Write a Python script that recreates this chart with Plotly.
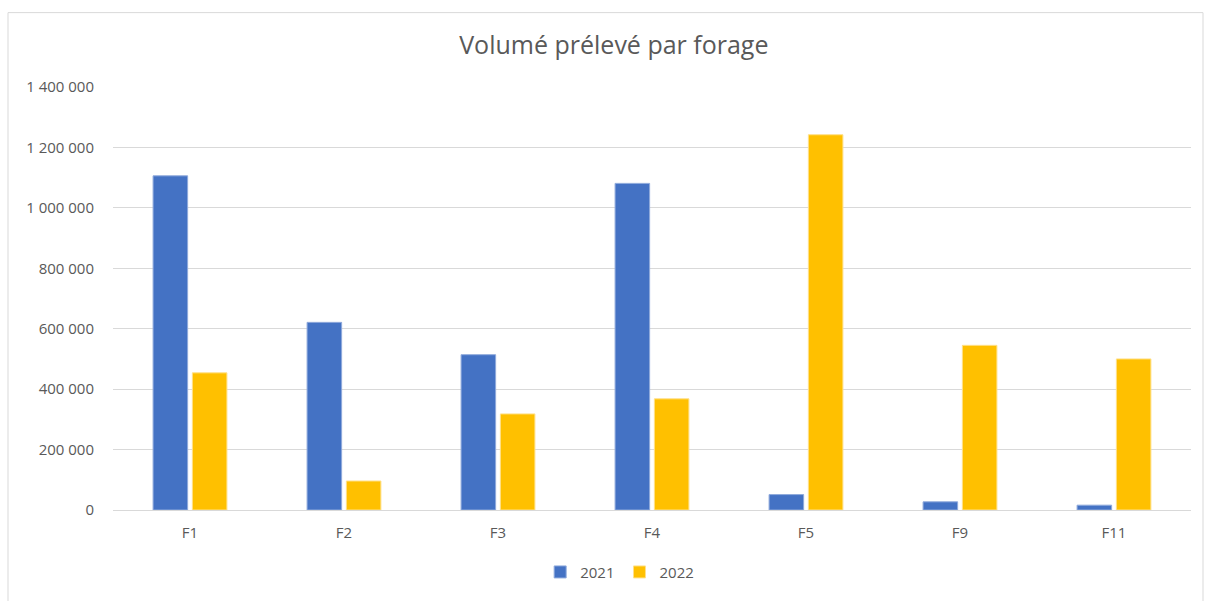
import plotly.graph_objects as go

categories = ["F1", "F2", "F3", "F4", "F5", "F9", "F11"]
vol_2021 = [1106000, 621000, 514000, 1081000, 51000, 27000, 16000]
vol_2022 = [454000, 96000, 318000, 368000, 1242000, 545000, 500000]
tick_vals = [0, 200000, 400000, 600000, 800000, 1000000, 1200000, 1400000]

fig = go.Figure()
fig.add_trace(go.Bar(name="2021", x=categories, y=vol_2021,
                     marker=dict(color="#4472C4", line=dict(color="#8FAADC", width=1))))
fig.add_trace(go.Bar(name="2022", x=categories, y=vol_2022,
                     marker=dict(color="#FFC000", line=dict(color="#FFE08A", width=1))))

font_fam = "'Open Sans', sans-serif"
fig.update_layout(
    width=1206, height=601,
    margin=dict(l=113, r=15, t=87, b=87),
    paper_bgcolor="white", plot_bgcolor="white",
    separators=", ",
    barmode="group", bargap=0.49, bargroupgap=0.12,
    title=dict(text="Volumé prélevé par forage", x=0.509, xanchor="center",
               y=1 - 45 / 601, yanchor="middle",
               font=dict(family=font_fam, size=25, color="#595959")),
    font=dict(family=font_fam, size=15, color="#595959"),
    legend=dict(orientation="h", x=0.47, xanchor="center", y=-0.147, yanchor="middle",
                font=dict(size=15, color="#595959"), itemwidth=30, traceorder="normal"),
    xaxis=dict(showgrid=False, showline=True, linecolor="#d9d9d9", linewidth=1,
               ticks="", ticklabelstandoff=9, tickfont=dict(size=15, color="#595959")),
    yaxis=dict(range=[0, 1400000], tickvals=tick_vals, tickformat=",d",
               showgrid=True, gridcolor="#d9d9d9", gridwidth=1, zeroline=False,
               showline=False, ticks="", ticklabelstandoff=18,
               tickfont=dict(size=15, color="#595959")),
    shapes=[dict(type="rect", xref="paper", yref="paper",
                 x0=(8 - 113) / 1078, x1=(1203 - 113) / 1078,
                 y0=-0.3, y1=(513.5 - 12) / 426.5,
                 line=dict(color="#d9d9d9", width=1), fillcolor="rgba(0,0,0,0)",
                 layer="below")],
)

fig.write_html("out.html", config={"displayModeBar": False},
               post_script="document.body.style.margin='0';")
